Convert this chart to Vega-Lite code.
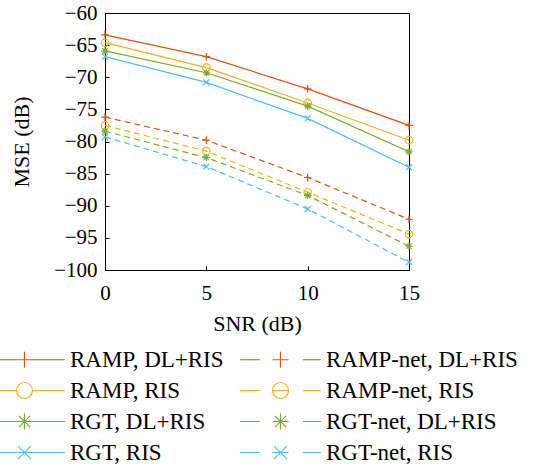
{
  "$schema": "https://vega.github.io/schema/vega-lite/v6.json",
  "width": 304,
  "height": 257,
  "autosize": {"type": "none"},
  "padding": {"left": 105, "top": 13, "right": 134, "bottom": 194},
  "background": "white",
  "config": {
    "font": "Liberation Serif",
    "view": {"stroke": "black", "strokeWidth": 1},
    "axis": {
      "domainColor": "black",
      "tickColor": "black",
      "labelColor": "black",
      "titleColor": "black",
      "labelFont": "Liberation Serif",
      "titleFont": "Liberation Serif",
      "labelFontSize": 21,
      "titleFontSize": 22,
      "titleFontWeight": "normal",
      "grid": false,
      "labelFlush": false,
      "tickSize": -4
    }
  },
  "data": {
    "values": [
      {"series": "RAMP, DL+RIS", "snr": 0, "mse": -63.4},
      {"series": "RAMP, DL+RIS", "snr": 5, "mse": -66.8},
      {"series": "RAMP, DL+RIS", "snr": 10, "mse": -71.8},
      {"series": "RAMP, DL+RIS", "snr": 15, "mse": -77.5},
      {"series": "RAMP, RIS", "snr": 0, "mse": -64.6},
      {"series": "RAMP, RIS", "snr": 5, "mse": -68.5},
      {"series": "RAMP, RIS", "snr": 10, "mse": -74.0},
      {"series": "RAMP, RIS", "snr": 15, "mse": -79.8},
      {"series": "RGT, DL+RIS", "snr": 0, "mse": -65.9},
      {"series": "RGT, DL+RIS", "snr": 5, "mse": -69.3},
      {"series": "RGT, DL+RIS", "snr": 10, "mse": -74.5},
      {"series": "RGT, DL+RIS", "snr": 15, "mse": -81.6},
      {"series": "RGT, RIS", "snr": 0, "mse": -66.8},
      {"series": "RGT, RIS", "snr": 5, "mse": -70.8},
      {"series": "RGT, RIS", "snr": 10, "mse": -76.4},
      {"series": "RGT, RIS", "snr": 15, "mse": -84.0},
      {"series": "RAMP-net, DL+RIS", "snr": 0, "mse": -76.2},
      {"series": "RAMP-net, DL+RIS", "snr": 5, "mse": -79.8},
      {"series": "RAMP-net, DL+RIS", "snr": 10, "mse": -85.6},
      {"series": "RAMP-net, DL+RIS", "snr": 15, "mse": -92.1},
      {"series": "RAMP-net, RIS", "snr": 0, "mse": -77.5},
      {"series": "RAMP-net, RIS", "snr": 5, "mse": -81.5},
      {"series": "RAMP-net, RIS", "snr": 10, "mse": -87.9},
      {"series": "RAMP-net, RIS", "snr": 15, "mse": -94.4},
      {"series": "RGT-net, DL+RIS", "snr": 0, "mse": -78.4},
      {"series": "RGT-net, DL+RIS", "snr": 5, "mse": -82.5},
      {"series": "RGT-net, DL+RIS", "snr": 10, "mse": -88.4},
      {"series": "RGT-net, DL+RIS", "snr": 15, "mse": -96.3},
      {"series": "RGT-net, RIS", "snr": 0, "mse": -79.3},
      {"series": "RGT-net, RIS", "snr": 5, "mse": -83.9},
      {"series": "RGT-net, RIS", "snr": 10, "mse": -90.5},
      {"series": "RGT-net, RIS", "snr": 15, "mse": -98.8}
    ]
  },
  "encoding": {
    "x": {
      "field": "snr", "type": "quantitative",
      "scale": {"domain": [0, 15], "nice": false},
      "axis": {"values": [0, 5, 10, 15], "title": "SNR (dB)", "labelPadding": 16, "titlePadding": 10}
    },
    "y": {
      "field": "mse", "type": "quantitative",
      "scale": {"domain": [-100, -60], "nice": false, "zero": false},
      "axis": {"values": [-100, -95, -90, -85, -80, -75, -70, -65, -60], "title": "MSE (dB)", "labelPadding": 12, "titlePadding": 20}
    }
  },
  "layer": [
    {
      "transform": [{"filter": "false"}],
      "mark": {"type": "point", "filled": false, "size": 256, "strokeWidth": 1.2, "opacity": 1},
      "encoding": {
        "color": {
          "field": "series", "type": "nominal",
          "scale": {
            "domain": ["RAMP, DL+RIS", "RAMP, RIS", "RGT, DL+RIS", "RGT, RIS", "RAMP-net, DL+RIS", "RAMP-net, RIS", "RGT-net, DL+RIS", "RGT-net, RIS"],
            "range": ["#D95319", "#EDB120", "#77AC30", "#4DBEEE", "#D95319", "#EDB120", "#77AC30", "#4DBEEE"]
          },
          "legend": {
            "title": null,
            "orient": "none",
            "legendX": -124,
            "legendY": 335,
            "columns": 2,
            "columnPadding": 13,
            "rowPadding": 7,
            "padding": 0,
            "symbolSize": 256,
            "symbolStrokeWidth": 1.2,
            "symbolOpacity": 1,
            "symbolOffset": 32,
            "labelOffset": 34,
            "labelFont": "Liberation Serif",
            "labelFontSize": 23,
            "labelColor": "black",
            "labelLimit": 400
          }
        },
        "shape": {
          "field": "series", "type": "nominal",
          "scale": {
            "domain": ["RAMP, DL+RIS", "RAMP, RIS", "RGT, DL+RIS", "RGT, RIS", "RAMP-net, DL+RIS", "RAMP-net, RIS", "RGT-net, DL+RIS", "RGT-net, RIS"],
            "range": [
              "M-5.06,0H5.06M0,-1V1",
              "M-5.06,0H-1M1,0H5.06M1,0A1,1,0,1,1,-1,0A1,1,0,1,1,1,0Z",
              "M-5.06,0H5.06M0,-1V1M-0.7,-0.7L0.7,0.7M-0.7,0.7L0.7,-0.7",
              "M-5.06,0H5.06M-0.8,-0.8L0.8,0.8M-0.8,0.8L0.8,-0.8",
              "M-5.06,0H-2.56M-1,0H1M2.81,0H5.06M0,-1V1",
              "M-5.06,0H-2.56M-1,0H1M2.81,0H5.06M1,0A1,1,0,1,1,-1,0A1,1,0,1,1,1,0Z",
              "M-5.06,0H-2.56M-1,0H1M2.81,0H5.06M0,-1V1M-0.7,-0.7L0.7,0.7M-0.7,0.7L0.7,-0.7",
              "M-5.06,0H-2.56M-1,0H1M2.81,0H5.06M-0.8,-0.8L0.8,0.8M-0.8,0.8L0.8,-0.8"
            ]
          },
          "legend": {
            "title": null,
            "orient": "none",
            "legendX": -124,
            "legendY": 335,
            "columns": 2,
            "columnPadding": 13,
            "rowPadding": 7,
            "padding": 0,
            "symbolSize": 256,
            "symbolStrokeWidth": 1.2,
            "symbolOpacity": 1,
            "symbolOffset": 32,
            "labelOffset": 34,
            "labelFont": "Liberation Serif",
            "labelFontSize": 23,
            "labelColor": "black",
            "labelLimit": 400
          }
        }
      }
    },
    {
      "transform": [{"filter": {"field": "series", "oneOf": ["RAMP, DL+RIS", "RAMP, RIS", "RGT, DL+RIS", "RGT, RIS"]}}],
      "mark": {"type": "line", "strokeWidth": 1.2},
      "encoding": {"color": {"field": "series", "type": "nominal", "legend": null}}
    },
    {
      "transform": [{"filter": {"field": "series", "oneOf": ["RAMP-net, DL+RIS", "RAMP-net, RIS", "RGT-net, DL+RIS", "RGT-net, RIS"]}}],
      "mark": {"type": "line", "strokeWidth": 1.2, "strokeDash": [6, 4]},
      "encoding": {"color": {"field": "series", "type": "nominal", "legend": null}}
    },
    {
      "transform": [{"filter": {"field": "series", "oneOf": ["RAMP, DL+RIS", "RAMP-net, DL+RIS"]}}],
      "mark": {"type": "point", "filled": false, "shape": "M-1,0H1M0,-1V1", "size": 56, "strokeWidth": 1.2, "opacity": 1},
      "encoding": {"color": {"field": "series", "type": "nominal", "legend": null}}
    },
    {
      "transform": [{"filter": {"field": "series", "oneOf": ["RAMP, RIS", "RAMP-net, RIS"]}}],
      "mark": {"type": "point", "filled": false, "shape": "M1,0A1,1,0,1,1,-1,0A1,1,0,1,1,1,0Z", "size": 56, "strokeWidth": 1.2, "opacity": 1},
      "encoding": {"color": {"field": "series", "type": "nominal", "legend": null}}
    },
    {
      "transform": [{"filter": {"field": "series", "oneOf": ["RGT, DL+RIS", "RGT-net, DL+RIS"]}}],
      "mark": {"type": "point", "filled": false, "shape": "M-1,0H1M0,-1V1M-0.7,-0.7L0.7,0.7M-0.7,0.7L0.7,-0.7", "size": 56, "strokeWidth": 1.2, "opacity": 1},
      "encoding": {"color": {"field": "series", "type": "nominal", "legend": null}}
    },
    {
      "transform": [{"filter": {"field": "series", "oneOf": ["RGT, RIS", "RGT-net, RIS"]}}],
      "mark": {"type": "point", "filled": false, "shape": "M-0.8,-0.8L0.8,0.8M-0.8,0.8L0.8,-0.8", "size": 56, "strokeWidth": 1.2, "opacity": 1},
      "encoding": {"color": {"field": "series", "type": "nominal", "legend": null}}
    }
  ]
}
